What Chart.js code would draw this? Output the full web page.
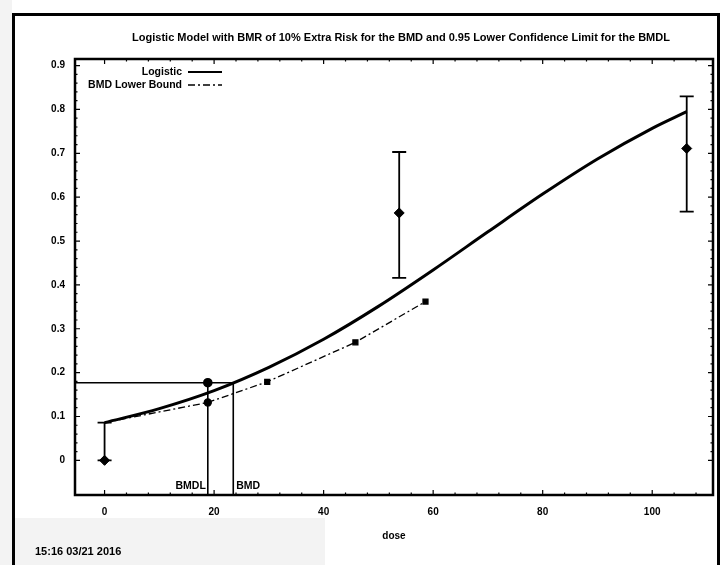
<!DOCTYPE html>
<html>
<head>
<meta charset="utf-8">
<script src="https://cdn.jsdelivr.net/npm/chart.js@4.4.1/dist/chart.umd.min.js"></script>
<style>
  html, body { margin: 0; padding: 0; background: #fff; }
  #wrap { position: relative; width: 727px; height: 565px; }
</style>
</head>
<body>
<div id="wrap"><canvas id="bmdChart" width="727" height="565"></canvas></div>
<script>
/* ─── DATA ────────────────────────────────────────────────── */
const titleText = 'Logistic Model with BMR of 10% Extra Risk for the BMD and 0.95 Lower Confidence Limit for the BMDL';
const stampText = '15:16 03/21 2016';
const xAxisText = 'dose';

// observed groups (mean with confidence bars)
const obsDose  = [0, 53.8, 106.3];
const obsMean  = [0, 0.564, 0.711];
const obsLower = [0, 0.416, 0.567];
const obsUpper = [0.086, 0.703, 0.830];

// fitted logistic curve
const fitDose = [0, 10, 20, 30, 40, 50, 60, 70, 80, 90, 100, 106.3];
const fitResp = [0.086, 0.118, 0.159, 0.212, 0.276, 0.351, 0.434, 0.521, 0.607, 0.687, 0.757, 0.795];

// BMD lower bound curve
const lowerDose = [0, 18.85, 29.7, 45.8, 58.6];
const lowerResp = [0.086, 0.132, 0.179, 0.269, 0.362];

const bmr  = 0.177;
const bmdl = 18.85;
const bmd  = 23.5;

const xTicks      = [0, 20, 40, 60, 80, 100];
const xTickLabels = ['0', '20', '40', '60', '80', '100'];
const yTicks      = [0, 0.1, 0.2, 0.3, 0.4, 0.5, 0.6, 0.7, 0.8, 0.9];
const yTickLabels = ['0', '0.1', '0.2', '0.3', '0.4', '0.5', '0.6', '0.7', '0.8', '0.9'];
const xRange = [-5.4, 111.1];
const yRange = [-0.079, 0.915];

/* ─── HELPERS ─────────────────────────────────────────────── */
const FONT = "'Liberation Sans', Arial, sans-serif";
const pts  = (xs, ys) => xs.map((x, i) => ({ x, y: ys[i] }));
const DASHDOT = [7, 3, 2, 3];

/* ─── DECORATION PLUGIN ───────────────────────────────────── */
const decor = {
  id: 'decor',
  beforeDraw(chart) {
    const c = chart.ctx;
    c.save();
    c.fillStyle = '#fff';
    c.fillRect(0, 0, chart.width, chart.height);
    c.fillStyle = '#f3f3f3';
    c.fillRect(0, 518, 325, 47);
    c.fillRect(0, 0, 12, 565);
    // outer frame
    c.strokeStyle = '#000';
    c.lineWidth = 3;
    c.beginPath();
    c.moveTo(13.5, 565); c.lineTo(13.5, 14.5); c.lineTo(718.5, 14.5); c.lineTo(718.5, 565);
    c.stroke();
    c.restore();
  },
  afterDatasetsDraw(chart) {
    const c = chart.ctx, a = chart.chartArea;
    const xs = chart.scales.x, ys = chart.scales.y;
    c.save();

    // error bars
    c.strokeStyle = '#000';
    c.lineWidth = 1.8;
    obsDose.forEach((d, i) => {
      const px = xs.getPixelForValue(d);
      const lo = ys.getPixelForValue(obsLower[i]);
      const hi = ys.getPixelForValue(obsUpper[i]);
      c.beginPath();
      c.moveTo(px, lo); c.lineTo(px, hi);
      c.moveTo(px - 7, lo); c.lineTo(px + 7, lo);
      c.moveTo(px - 7, hi); c.lineTo(px + 7, hi);
      c.stroke();
    });

    // plot frame
    c.lineWidth = 2.5;
    c.strokeRect(a.left, a.top, a.right - a.left, a.bottom - a.top);

    // inward ticks on all four sides
    c.lineWidth = 1.2;
    c.beginPath();
    for (let v = 0; v <= 110; v += 4) {
      const px = xs.getPixelForValue(v);
      const len = xTicks.includes(v) ? 5 : 2.5;
      c.moveTo(px, a.bottom); c.lineTo(px, a.bottom - len);
      c.moveTo(px, a.top);    c.lineTo(px, a.top + len);
    }
    for (let k = 0; k <= 45; k++) {
      const v = k * 0.02;
      const py = ys.getPixelForValue(v);
      const len = k % 5 === 0 ? 5 : 2.5;
      c.moveTo(a.left, py);  c.lineTo(a.left + len, py);
      c.moveTo(a.right, py); c.lineTo(a.right - len, py);
    }
    c.stroke();

    // BMDL / BMD labels
    c.fillStyle = '#000';
    c.font = 'bold 10.5px ' + FONT;
    c.textBaseline = 'middle';
    c.textAlign = 'right';
    c.fillText('BMDL', xs.getPixelForValue(bmdl) - 2, a.bottom - 9);
    c.textAlign = 'left';
    c.fillText('BMD', xs.getPixelForValue(bmd) + 3, a.bottom - 9);

    // legend
    c.textAlign = 'right';
    c.fillText('Logistic', 182, 72);
    c.fillText('BMD Lower Bound', 182, 85);
    c.beginPath();
    c.lineWidth = 2;
    c.moveTo(188, 72); c.lineTo(222, 72);
    c.stroke();
    c.beginPath();
    c.lineWidth = 1.4;
    c.setLineDash(DASHDOT);
    c.moveTo(188, 85); c.lineTo(222, 85);
    c.stroke();
    c.setLineDash([]);

    // title + time stamp
    c.font = 'bold 11px ' + FONT;
    c.textAlign = 'center';
    c.fillText(titleText, 401, 38);
    c.font = 'bold 11px ' + FONT;
    c.textAlign = 'left';
    c.fillText(stampText, 35, 552);
    c.restore();
  }
};

/* ─── CHART ───────────────────────────────────────────────── */
const ctx = document.getElementById('bmdChart').getContext('2d');

new Chart(ctx, {
  type: 'scatter',
  data: {
    datasets: [
      {
        label: 'Logistic',
        data: pts(fitDose, fitResp),
        showLine: true,
        borderColor: '#000',
        borderWidth: 3,
        pointRadius: 0,
        cubicInterpolationMode: 'monotone',
      },
      {
        label: 'BMD Lower Bound',
        data: pts(lowerDose, lowerResp),
        showLine: true,
        borderColor: '#000',
        borderWidth: 1.3,
        borderDash: DASHDOT,
        pointStyle: ['circle', 'circle', 'rect', 'rect', 'rect'],
        pointRadius: [0, 3.5, 3.5, 3.5, 3.5],
        pointBackgroundColor: '#000',
        pointBorderColor: '#000',
      },
      {
        label: 'Observed',
        data: pts(obsDose, obsMean),
        pointStyle: 'rectRot',
        pointRadius: 5,
        pointBackgroundColor: '#000',
        pointBorderColor: '#000',
      },
      {
        label: 'BMD',
        data: [{ x: xRange[0], y: bmr }, { x: bmd, y: bmr }, { x: bmd, y: yRange[0] }],
        showLine: true,
        borderColor: '#000',
        borderWidth: 1.6,
        pointRadius: 0,
      },
      {
        label: 'BMDL',
        data: [{ x: bmdl, y: bmr }, { x: bmdl, y: yRange[0] }],
        showLine: true,
        borderColor: '#000',
        borderWidth: 1.6,
        pointRadius: [4, 0],
        pointBackgroundColor: '#000',
        pointBorderColor: '#000',
      },
    ],
  },
  options: {
    responsive: false,
    animation: false,
    devicePixelRatio: 1,
    layout: { padding: { top: 59, right: 14, left: 0, bottom: 0 } },
    plugins: { legend: { display: false }, tooltip: { enabled: false }, title: { display: false } },
    scales: {
      x: {
        type: 'linear',
        min: xRange[0], max: xRange[1],
        afterFit: s => { s.height = 70; },
        afterBuildTicks: s => { s.ticks = xTicks.map(v => ({ value: v })); },
        grid: { display: false, drawTicks: false },
        border: { display: false },
        ticks: {
          padding: 11,
          color: '#000',
          font: { family: FONT, size: 10, weight: 'bold' },
          callback: (v) => xTickLabels[xTicks.indexOf(v)] ?? '',
        },
        title: {
          display: true,
          text: xAxisText,
          color: '#000',
          font: { family: FONT, size: 10, weight: 'bold' },
          padding: { top: 0, bottom: 23 },
        },
      },
      y: {
        type: 'linear',
        min: yRange[0], max: yRange[1],
        afterFit: s => { s.width = 75; },
        afterBuildTicks: s => { s.ticks = yTicks.map(v => ({ value: v })); },
        grid: { display: false, drawTicks: false },
        border: { display: false },
        ticks: {
          padding: 10,
          color: '#000',
          font: { family: FONT, size: 10, weight: 'bold' },
          callback: (v) => yTickLabels[yTicks.indexOf(v)] ?? '',
        },
      },
    },
  },
  plugins: [decor],
});
</script>
</body>
</html>
